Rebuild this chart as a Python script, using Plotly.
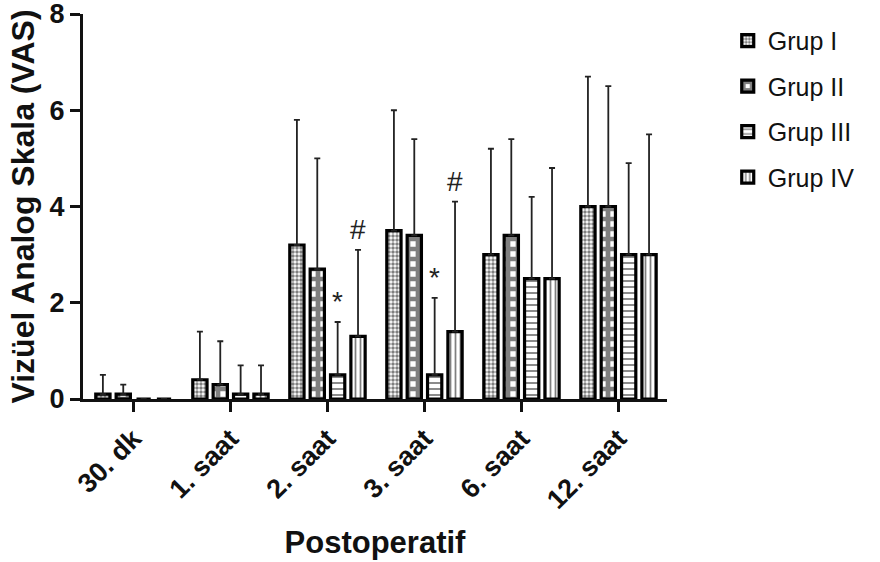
import plotly.graph_objects as go

categories = ["30. dk", "1. saat", "2. saat", "3. saat", "6. saat", "12. saat"]
groups = ["Grup I", "Grup II", "Grup III", "Grup IV"]

grup1_mean = [0.1, 0.4, 3.2, 3.5, 3.0, 4.0]
grup1_err = [0.4, 1.0, 2.6, 2.5, 2.2, 2.7]
grup2_mean = [0.1, 0.3, 2.7, 3.4, 3.4, 4.0]
grup2_err = [0.2, 0.9, 2.3, 2.0, 2.0, 2.5]
grup3_mean = [0.0, 0.1, 0.5, 0.5, 2.5, 3.0]
grup3_err = [0.0, 0.6, 1.1, 1.6, 1.7, 1.9]
grup4_mean = [0.0, 0.1, 1.3, 1.4, 2.5, 3.0]
grup4_err = [0.0, 0.6, 1.8, 2.7, 2.3, 2.5]

# significance marks: (category index, group index, symbol)
sig_cat = [2, 2, 3, 3]
sig_grp = [2, 3, 2, 3]
sig_sym = ["*", "#", "*", "#"]

means = [grup1_mean, grup2_mean, grup3_mean, grup4_mean]
errs = [grup1_err, grup2_err, grup3_err, grup4_err]
patterns = [
    dict(shape=".", size=4, solidity=0.6, fgcolor="black", bgcolor="white"),
    dict(shape="+", size=10, solidity=0.72, fgcolor="black", bgcolor="white"),
    dict(shape="-", size=6, solidity=0.3, fgcolor="black", bgcolor="white"),
    dict(shape="|", size=5, solidity=0.35, fgcolor="black", bgcolor="white"),
]

FONT = "Liberation Sans, Arial, sans-serif"
BARGAP = 0.16
fig = go.Figure()
for g, name in enumerate(groups):
    fig.add_trace(go.Bar(
        name=name, legendgroup=name,
        x=list(range(len(categories))),
        y=means[g],
        marker=dict(color="white", line=dict(color="black", width=3.2), pattern=patterns[g]),
        error_y=dict(type="data", symmetric=False, array=errs[g],
                     arrayminus=[0] * len(categories),
                     color="#222222", thickness=1.8, width=3),
    ))

slot = (1 - BARGAP) / len(groups)
annotations = []
for c, g, s in zip(sig_cat, sig_grp, sig_sym):
    xpos = c - (1 - BARGAP) / 2 + slot * (g + 0.5)
    top = means[g][c] + errs[g][c]
    annotations.append(dict(
        x=xpos, y=top + 0.06, xref="x", yref="y", text=s, showarrow=False,
        yanchor="bottom", font=dict(family=FONT, size=28, color="#222222"),
    ))

fig.update_layout(
    width=880, height=562,
    margin=dict(l=83, r=213, t=14, b=163, autoexpand=False),
    plot_bgcolor="white", paper_bgcolor="white",
    barmode="group", bargap=BARGAP, bargroupgap=0.3,
    font=dict(family=FONT, color="#111111"),
    annotations=annotations,
    legend=dict(x=1.104, y=0.99, xanchor="left", yanchor="top",
                font=dict(size=25, color="#111111"), tracegroupgap=10,
                itemwidth=30, bgcolor="rgba(0,0,0,0)"),
    showlegend=True,
)
fig.update_xaxes(
    tickmode="array", tickvals=list(range(len(categories))), ticktext=categories,
    range=[-0.52, 5.5], tickangle=-45,
    showline=True, linecolor="#111111", linewidth=3,
    ticks="outside", ticklen=10, tickwidth=3, tickcolor="#111111",
    showgrid=False, zeroline=False,
    tickfont=dict(family=FONT, size=27, color="#111111", weight="bold"),
    title=dict(text="<b>Postoperatif</b>", font=dict(size=31, color="#111111"), standoff=18),
)
fig.update_yaxes(
    range=[0, 8], tickvals=[0, 2, 4, 6, 8], ticklabeloverflow="allow",
    showline=True, linecolor="#111111", linewidth=3,
    ticks="outside", ticklen=10, tickwidth=3, tickcolor="#111111",
    showgrid=False, zeroline=False,
    tickfont=dict(family=FONT, size=27, color="#111111", weight="bold"),
    title=dict(text="<b>Vizüel Analog Skala (VAS)</b>", font=dict(size=32, color="#111111"), standoff=6),
)

fig.write_html("out.html", config={"displayModeBar": False},
               post_script="document.body.style.margin='0';")
